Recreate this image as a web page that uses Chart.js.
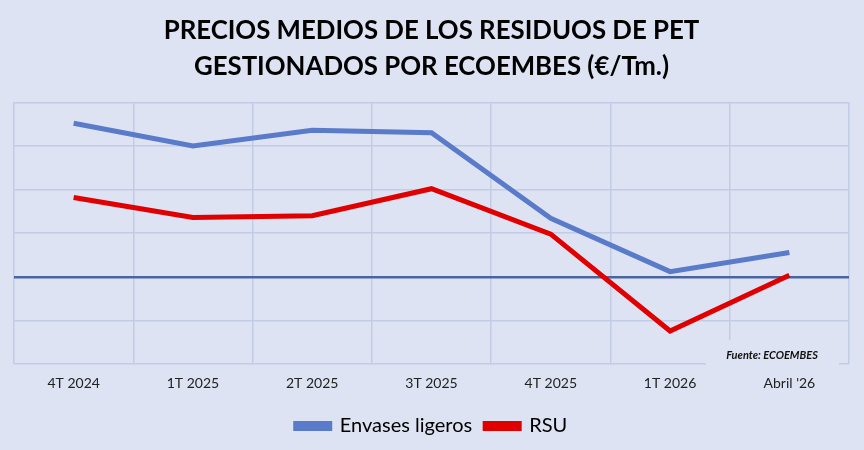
<!DOCTYPE html>
<html>
<head>
<meta charset="utf-8">
<script src="https://cdn.jsdelivr.net/npm/chart.js@4"></script>
<style>
  body { margin: 0; background: #dde3f2; }
  #wrap { width: 864px; height: 450px; }
</style>
</head>
<body>
<div id="wrap"><canvas id="chart"></canvas></div>
<script>
// Values (€/Tm., zero at the dark axis line)
const categories = ['4T 2024', '1T 2025', '2T 2025', '3T 2025', '4T 2025', '1T 2026', "Abril '26"];
const envasesLigeros = [176, 150, 168, 165, 67, 6, 28];
const rsu = [91, 68, 70, 101, 49, -62, 2];

const BG = '#dde3f2';
const GRID = '#c3cce6';
const AXIS = '#4a64a0';

// Source note, drawn on a patch of background over the grid
const sourceNote = {
    id: 'sourceNote',
    beforeDatasetsDraw(chart) {
        const { ctx, chartArea } = chart;
        ctx.save();
        ctx.fillStyle = BG;
        ctx.fillRect(chartArea.right - 143, chartArea.bottom - 24, 133, 28);
        ctx.fillStyle = '#111';
        ctx.font = 'italic bold 11px Lato';
        ctx.textAlign = 'center';
        ctx.textBaseline = 'middle';
        ctx.fillText('Fuente: ECOEMBES', chartArea.right - 77, chartArea.bottom - 9);
        ctx.restore();
    }
};

new Chart(document.getElementById('chart'), {
    type: 'line',
    data: {
        labels: categories,
        datasets: [
            {
                label: 'Envases ligeros',
                data: envasesLigeros,
                borderColor: '#5a7bc9',
                backgroundColor: '#5a7bc9',
                borderWidth: 5,
                pointRadius: 0,
                tension: 0
            },
            {
                label: 'RSU',
                data: rsu,
                borderColor: '#e00000',
                backgroundColor: '#e00000',
                borderWidth: 5,
                pointRadius: 0,
                tension: 0
            }
        ]
    },
    options: {
        responsive: true,
        maintainAspectRatio: false,
        animation: false,
        layout: { padding: { left: 14, right: 15, top: 10, bottom: 4 } },
        plugins: {
            title: {
                display: true,
                text: ['PRECIOS MEDIOS DE LOS RESIDUOS DE PET', 'GESTIONADOS POR ECOEMBES (€/Tm.)'],
                color: '#000',
                font: { family: 'Lato', size: 25.8, weight: 'bold', lineHeight: 1.42 },
                padding: { top: 2, bottom: 17 }
            },
            legend: {
                position: 'bottom',
                labels: {
                    color: '#000',
                    font: { family: 'Lato', size: 20 },
                    boxWidth: 34,
                    boxHeight: 5,
                    padding: 13
                }
            },
            tooltip: { enabled: false }
        },
        scales: {
            x: {
                offset: true,
                grid: { color: GRID, lineWidth: 1.5, offset: true, drawTicks: false },
                border: { display: false },
                ticks: { color: '#222', font: { family: 'Lato', size: 14 }, padding: 11 }
            },
            y: {
                min: -100,
                max: 200,
                ticks: { stepSize: 50, display: false },
                grid: {
                    drawTicks: false,
                    color: (c) => c.tick && c.tick.value === 0 ? AXIS : GRID,
                    lineWidth: (c) => c.tick && c.tick.value === 0 ? 2.5 : 1.5
                },
                border: { display: false }
            }
        }
    },
    plugins: [sourceNote]
});
</script>
</body>
</html>
